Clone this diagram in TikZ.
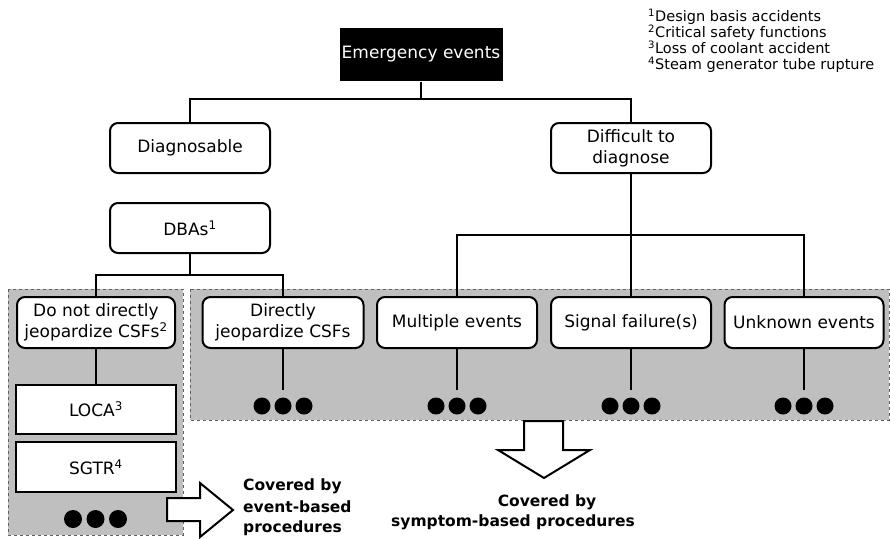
\documentclass[tikz,border=0pt]{standalone}
\usepackage{fontspec}
\setmainfont{DejaVu Sans}
\begin{document}
\begin{tikzpicture}[x=1pt,y=-1pt,
  conn/.style={line width=2pt},
  rbox/.style={draw, line width=2pt, rounded corners=8pt, fill=white, align=center,
    inner sep=0pt, font=\fontsize{17}{21}\selectfont},
  sbox/.style={draw, line width=2.4pt, fill=white, inner sep=0pt, align=center,
    font=\fontsize{17}{21}\selectfont},
  region/.style={draw=gray!75!black, dashed, line width=0.8pt, fill=black!25},
  dotn/.style={circle, fill=black, minimum size=17pt, inner sep=0pt},
  blockarrow/.style={draw, fill=white, line width=2pt, line join=miter},
  cover/.style={font=\fontsize{15.5}{21}\bfseries\selectfont, inner sep=0pt},
  note/.style={font=\fontsize{14.5}{16}\selectfont, inner sep=0pt, align=left}
]
\useasboundingbox (0,0) rectangle (891,538);
% regions
\draw[region] (8,289) rectangle (183,535);
\draw[region] (190,289) rectangle (889,420);
% footnotes
\node[note, anchor=north west] (notes) at (648,9) {\textsuperscript{1}Design basis accidents\\
\textsuperscript{2}Critical safety functions\\
\textsuperscript{3}Loss of coolant accident\\
\textsuperscript{4}Steam generator tube rupture};
% top
\node[rbox, rounded corners=0pt, fill=black, text=white, draw=none,
  minimum width=163pt, minimum height=53pt] (emerg) at (421,54.5) {Emergency events};
\node[rbox, minimum width=160pt, minimum height=50pt] (diag) at (190,148) {Diagnosable};
\node[rbox, minimum width=160pt, minimum height=50pt] (diff) at (631,148) {Difficult to\\diagnose};
\node[rbox, minimum width=160pt, minimum height=50pt] (dba) at (190,228) {DBAs\textsuperscript{1}};
\draw[conn] (emerg.south) -- (421,99) coordinate (tj) -| (diag.north);
\draw[conn] (tj) -| (diff.north);
% second level
\node[rbox, minimum width=158pt, minimum height=51pt] (notj) at (96,322.5) {Do not directly\\jeopardize CSFs\textsuperscript{2}};
\node[rbox, minimum width=161pt, minimum height=51pt] (dirj) at (283,322.5) {Directly\\jeopardize CSFs};
\node[rbox, minimum width=160pt, minimum height=51pt] (mult) at (457,322.5) {Multiple events};
\node[rbox, minimum width=160pt, minimum height=51pt] (sig) at (631,322.5) {Signal failure(s)};
\node[rbox, minimum width=159pt, minimum height=51pt] (unk) at (804,322.5) {Unknown events};
\draw[conn] (dba.south) -- (190,275) coordinate (dj) -| (notj.north);
\draw[conn] (dj) -| (dirj.north);
\draw[conn] (diff.south) -- (sig.north);
\coordinate (rj) at (631,235);
\draw[conn] (mult.north) |- (rj) -| (unk.north);
% left column
\node[sbox, minimum width=160pt, minimum height=49pt] (loca) at (96,409.5) {LOCA\textsuperscript{3}};
\node[sbox, minimum width=160pt, minimum height=50pt] (sgtr) at (96,467) {SGTR\textsuperscript{4}};
\draw[conn] (notj.south) -- (loca.north);
% dots
\foreach \n/\cx in {dirj/283, mult/457, sig/631, unk/804}{
  \node[dotn] (\n a) at (\cx-21,406) {};
  \node[dotn] (\n b) at (\cx,406) {};
  \node[dotn] (\n c) at (\cx+21,406) {};
  \coordinate (\n e) at (\cx,390);
  \draw[conn] (\n.south) -- (\n e);
}
\node[dotn, minimum size=18pt] (la) at (73,519) {};
\node[dotn, minimum size=18pt] (lb) at (95.5,519) {};
\node[dotn, minimum size=18pt] (lc) at (118,519) {};
% block arrows
\draw[blockarrow] (167,498) -- (200,498) -- (200,483) -- (233,510) -- (200,537) -- (200,521) -- (167,521) -- cycle;
\draw[blockarrow] (524,421) -- (524,450) -- (498,450) -- (544,478) -- (590,450) -- (563,450) -- (563,421) -- cycle;
% captions
\node[cover, anchor=west] (ev1) at (243,486) {Covered by};
\node[cover, anchor=west] (ev2) at (243,507) {event-based};
\node[cover, anchor=west] (ev3) at (243,528) {procedures};
\node[cover] (sy1) at (547,502) {Covered by};
\node[cover] (sy2) at (513,522) {symptom-based procedures};
\end{tikzpicture}
\end{document}
